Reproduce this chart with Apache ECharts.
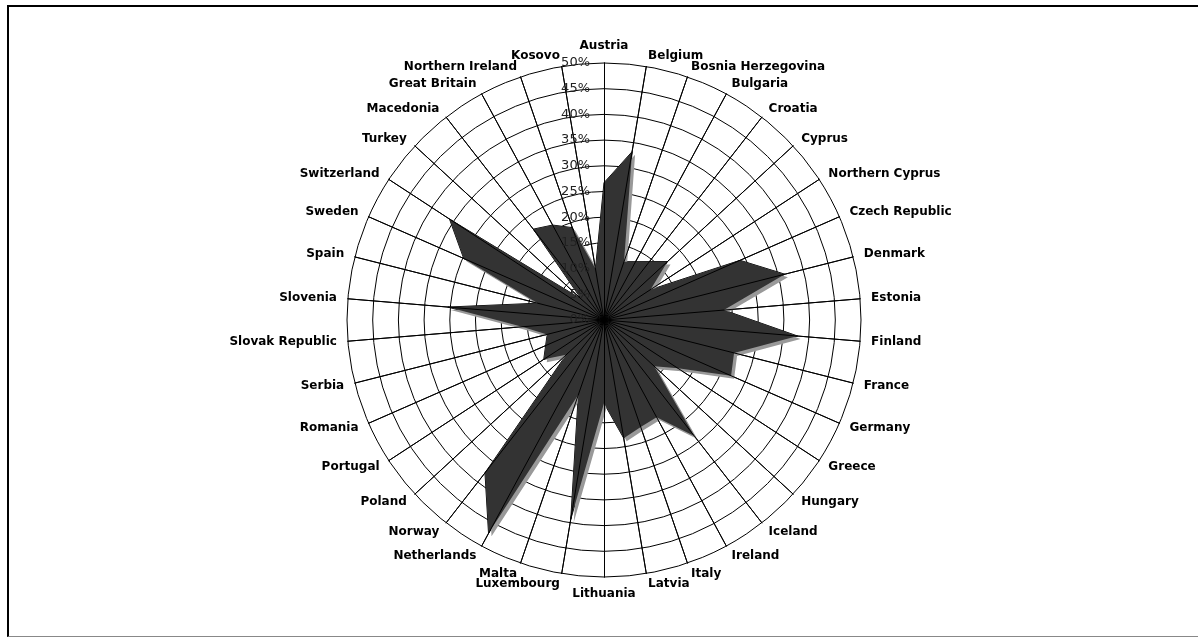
<!DOCTYPE html>
<html>
<head>
<meta charset="utf-8">
<title>Radar</title>
<script src="https://cdn.jsdelivr.net/npm/echarts@6.0.0/dist/echarts.min.js"></script>
<style>
  html, body { margin: 0; padding: 0; background: #fff; }
  #chart { position: absolute; left: 0; top: 0; width: 1198px; height: 637px; }
  /* frame round the chart area */
  #frame {
    position: absolute; left: 7px; top: 5px; right: -20px; bottom: 0;
    border-left: 2px solid #000; border-top: 2px solid #000; border-bottom: 1px solid #888;
    pointer-events: none;
  }
</style>
</head>
<body>
<div id="chart"></div>
<div id="frame"></div>
<script>
// countries, clockwise from the top
const countries = [
  "Austria", "Belgium", "Bosnia Herzegovina", "Bulgaria", "Croatia", "Cyprus",
  "Northern Cyprus", "Czech Republic", "Denmark", "Estonia", "Finland", "France",
  "Germany", "Greece", "Hungary", "Iceland", "Ireland", "Italy", "Latvia",
  "Lithuania", "Luxembourg", "Malta", "Netherlands", "Norway", "Poland",
  "Portugal", "Romania", "Serbia", "Slovak Republic", "Slovenia", "Spain",
  "Sweden", "Switzerland", "Turkey", "Macedonia", "Great Britain",
  "Northern Ireland", "Kosovo"
];
// share in percent
const shares = [
  26.7, 33.2, 12.0, 12.9, 14.4, 16.8,
  10.8, 28.9, 36.3, 23.4, 37.8, 26.1,
  27.0, 17.2, 13.3, 28.6, 21.5, 22.0, 23.3,
  16.2, 39.3, 15.4, 47.2, 37.7, 10.0,
  14.0, 12.4, 11.4, 16.0, 30.5, 13.3,
  29.8, 35.9, 6.0, 22.4, 21.0,
  19.0, 10.1
];
// radial scale
const axisMin = 0;
const axisMax = 50;
const axisStep = 5;

// echarts lays radar axes out anticlockwise, so keep the first one on top
// and walk the rest backwards to get them clockwise
const order = [0];
for (let i = countries.length - 1; i > 0; i--) order.push(i);

const chart = document.getElementById("chart");
let myChart = echarts.init(chart);

const indicators = order.map((i, k) => ({
  name: countries[i],
  min: axisMin,
  max: axisMax,
  // only the first spoke carries the % ticks
  axisLabel: { show: k === 0 }
}));
const bareIndicators = order.map((i) => ({ name: countries[i], min: axisMin, max: axisMax }));
const orderedShares = order.map((i) => shares[i]);

const center = [604, 320];
const radius = 257;

myChart.setOption({
  animation: false,
  radar: [
    {
      // rings and names, under the filled shape
      z: 0,
      center: center,
      radius: radius,
      shape: "circle",
      startAngle: 90,
      splitNumber: (axisMax - axisMin) / axisStep,
      indicator: bareIndicators,
      axisName: {
        color: "#000",
        fontFamily: "DejaVu Sans",
        fontWeight: "bold",
        fontSize: 12
      },
      nameGap: 11,
      axisLine: { lineStyle: { color: "#000", width: 1 } },
      splitLine: { lineStyle: { color: "#000", width: 1 } },
      splitArea: { show: false },
      axisTick: { show: false },
      axisLabel: { show: false }
    },
    {
      // spokes and tick labels, drawn over the shape
      z: 3,
      center: center,
      radius: radius,
      shape: "circle",
      startAngle: 90,
      splitNumber: (axisMax - axisMin) / axisStep,
      indicator: indicators,
      axisName: { show: false },
      axisLine: { lineStyle: { color: "#000", width: 1 } },
      splitLine: { show: false },
      splitArea: { show: false },
      axisTick: { show: false },
      axisLabel: {
        show: false,
        margin: 14,
        color: "#222",
        fontFamily: "DejaVu Sans",
        fontSize: 13,
        formatter: "{value}%"
      }
    }
  ],
  series: [
    {
      type: "radar",
      radarIndex: 0,
      z: 2,
      symbol: "none",
      lineStyle: { color: "#000", width: 1 },
      areaStyle: {
        color: "#333333",
        opacity: 1,
        shadowColor: "#999",
        shadowOffsetX: 3,
        shadowOffsetY: 3,
        shadowBlur: 0
      },
      data: [{ value: orderedShares, name: "Share" }]
    }
  ]
});
window.addEventListener("resize", function () {
  myChart.resize();
});
</script>
</body>
</html>
